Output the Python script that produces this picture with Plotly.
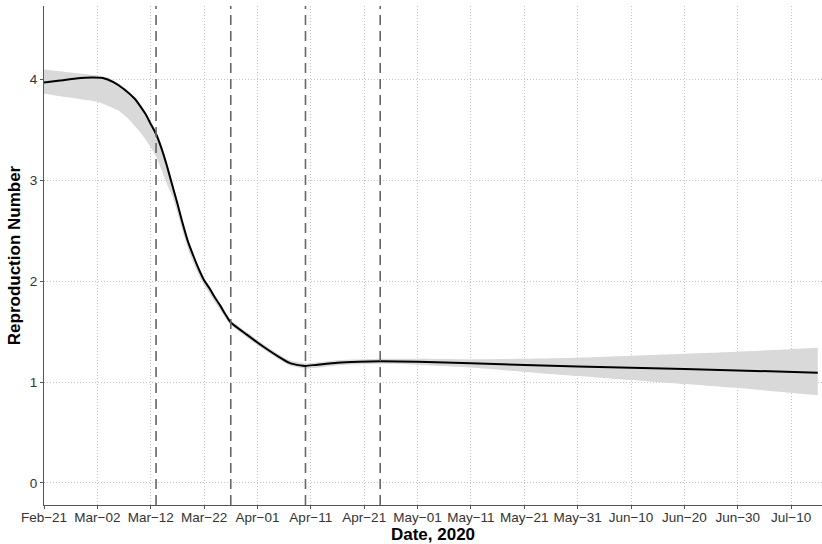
import plotly.graph_objects as go
import pandas as pd

# ---- data ----
start = "2020-02-21"
line_days = [0, 3, 6, 9, 11, 13, 15, 17, 18, 19, 20, 21, 22, 23, 24, 25, 26, 27, 28, 29, 30, 31, 32, 33, 34, 35,
             38, 41, 44, 46, 48, 49, 51, 55, 59, 63, 70, 80, 100, 120, 145]
line_vals = [3.97, 3.99, 4.01, 4.02, 4.015, 3.975, 3.905, 3.81, 3.74, 3.66, 3.56, 3.46, 3.32, 3.15, 2.96, 2.77, 2.57,
             2.39, 2.25, 2.12, 2.01, 1.93, 1.84, 1.76, 1.67, 1.59,
             1.47, 1.355, 1.25, 1.19, 1.165, 1.16, 1.17, 1.19, 1.20, 1.205, 1.20, 1.185, 1.155, 1.13, 1.093]

band_days = [0, 5, 10, 12, 14, 16, 18, 20, 21, 22, 23, 24, 25, 26, 27, 28, 29, 30, 31, 33, 35,
             38, 41, 44, 46, 49, 55, 63, 70, 80, 90, 100, 110, 120, 130, 145]
band_upper = [4.10, 4.07, 4.04, 4.02, 3.96, 3.88, 3.76, 3.58, 3.48, 3.35, 3.18, 2.99, 2.80, 2.60, 2.41, 2.27,
              2.15, 2.04, 1.95, 1.78, 1.615,
              1.495, 1.38, 1.275, 1.215, 1.185, 1.215, 1.23, 1.23, 1.225, 1.23, 1.24, 1.26, 1.28, 1.30, 1.34]
band_lower = [3.86, 3.82, 3.78, 3.74, 3.69, 3.60, 3.48, 3.33, 3.24, 3.11, 2.97, 2.85, 2.68, 2.49, 2.32, 2.18,
              2.06, 1.96, 1.88, 1.715, 1.565,
              1.445, 1.33, 1.225, 1.165, 1.135, 1.165, 1.18, 1.17, 1.145, 1.10, 1.06, 1.02, 0.98, 0.94, 0.87]

event_dates = ["2020-03-13", "2020-03-27", "2020-04-10", "2020-04-24"]

tick_dates = ["2020-02-21", "2020-03-02", "2020-03-12", "2020-03-22", "2020-04-01", "2020-04-11",
              "2020-04-21", "2020-05-01", "2020-05-11", "2020-05-21", "2020-05-31", "2020-06-10",
              "2020-06-20", "2020-06-30", "2020-07-10"]
tick_labels = ["Feb\u221221", "Mar\u221202", "Mar\u221212", "Mar\u221222", "Apr\u221201", "Apr\u221211",
               "Apr\u221221", "May\u221201", "May\u221211", "May\u221221", "May\u221231", "Jun\u221210",
               "Jun\u221220", "Jun\u221230", "Jul\u221210"]
y_ticks = [0, 1, 2, 3, 4]

# ---- build ----
t0 = pd.Timestamp(start)
line_x = [t0 + pd.Timedelta(days=d) for d in line_days]
band_x = [t0 + pd.Timedelta(days=d) for d in band_days]

fig = go.Figure()
fig.add_trace(go.Scatter(x=band_x, y=band_upper, mode="lines",
                         line=dict(width=0, shape="spline", smoothing=0.5),
                         hoverinfo="skip", showlegend=False))
fig.add_trace(go.Scatter(x=band_x, y=band_lower, mode="lines",
                         line=dict(width=0, shape="spline", smoothing=0.5),
                         fill="tonexty", fillcolor="#d9d9d9", hoverinfo="skip", showlegend=False))
fig.add_trace(go.Scatter(x=line_x, y=line_vals, mode="lines",
                         line=dict(color="black", width=2, shape="spline", smoothing=0.5),
                         showlegend=False))

for d in event_dates:
    fig.add_shape(type="line", xref="x", yref="paper", x0=d, x1=d, y0=0, y1=1,
                  line=dict(color="#666666", width=1.6, dash="10px,6px"))

fam = "Liberation Sans, Arial, sans-serif"
tick_font = dict(family=fam, size=13.5, color="#333333")
title_font = dict(family=fam, size=17, color="black")
grid = dict(showgrid=True, gridcolor="#c4c4c4", gridwidth=1, griddash="1px,2px",
            showline=True, linecolor="#555555", linewidth=1.2,
            ticks="outside", ticklen=3, tickcolor="#555555",
            tickfont=tick_font, zeroline=False, automargin=False)

fig.update_layout(
    width=822, height=544,
    margin=dict(l=44, r=0, t=6, b=39),
    paper_bgcolor="white", plot_bgcolor="white",
    font=tick_font,
    xaxis=dict(
        type="date",
        range=["2020-02-21", "2020-07-15 19:00"],
        tickvals=tick_dates, ticktext=tick_labels,
        ticklabelstandoff=-3,
        title=dict(text="<b>Date, 2020</b>", standoff=0, font=title_font),
        **grid,
    ),
    yaxis=dict(
        range=[-0.22, 4.73],
        tickvals=y_ticks,
        title=dict(text="<b>Reproduction Number</b>", standoff=4, font=title_font),
        **grid,
    ),
)

fig.write_html("out.html", config={"displayModeBar": False},
               post_script="document.body.style.margin='0';document.body.style.overflow='hidden';")
